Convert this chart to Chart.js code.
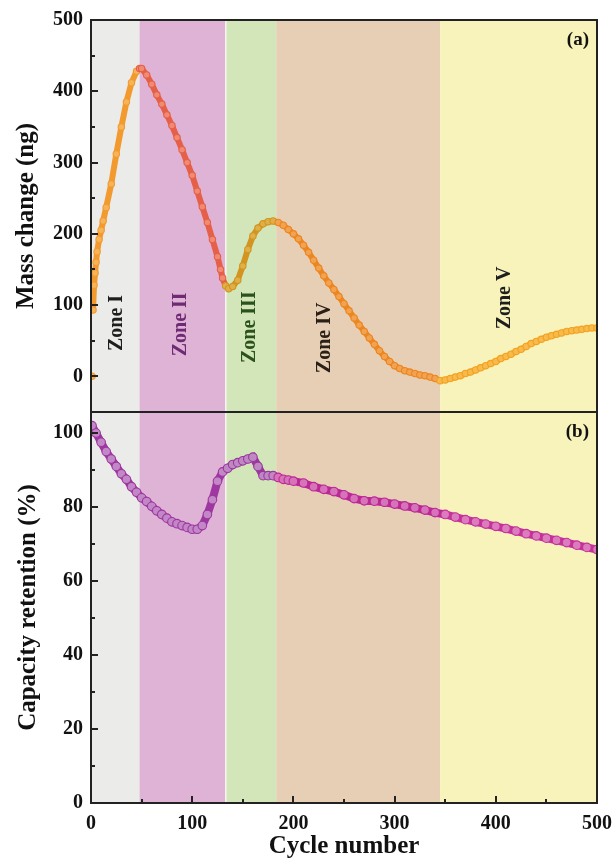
<!DOCTYPE html>
<html>
<head>
<meta charset="utf-8">
<script src="https://cdn.jsdelivr.net/npm/chart.js@4.4.1/dist/chart.umd.min.js"></script>
<style>
  body { margin: 0; background: #fff; }
  #wrap { position: relative; width: 614px; height: 862px; }
  #topBox { position: absolute; left: 0; top: 0; width: 614px; height: 413px; }
  #bottomBox { position: absolute; left: 0; top: 411px; width: 614px; height: 451px; }
</style>
</head>
<body>
<div id="wrap">
  <div id="topBox"><canvas id="massChart"></canvas></div>
  <div id="bottomBox"><canvas id="retentionChart"></canvas></div>
</div>
<script>
// zones (cycle boundaries)
const zoneEdges = [0, 48, 133, 183, 345, 500];
const zoneNames = ["Zone I", "Zone II", "Zone III", "Zone IV", "Zone V"];
const zoneFills = ["#ebebe9", "#dfb3d6", "#d2e6ba", "#e7cfb6", "#f8f3bb"];
const zoneTextColors = ["#1e1e1e", "#6e2a72", "#2c521c", "#2a2016", "#1e1e1e"];
const zoneLabelCycle = [26, 89, 157, 231, 409];
const zoneLabelMass = [75, 73, 69, 54, 110];

// panel (a): mass change
const massCycles = [1, 2, 3, 4, 5, 6, 8, 10, 12, 15, 20, 25, 30, 35, 40, 45, 48,
  50, 55, 60, 65, 70, 75, 80, 85, 90, 95, 100, 105, 110, 115, 120, 125, 128, 130, 133,
  136, 140, 145, 150, 155, 160, 165, 170, 175, 180,
  185, 190, 195, 200, 205, 210, 215, 220, 225, 230, 235, 240, 245, 250, 255, 260, 265,
  270, 275, 280, 285, 290, 295, 300, 305, 310, 315, 320, 325, 330, 335, 340, 345,
  350, 355, 360, 365, 370, 375, 380, 385, 390, 395, 400, 405, 410, 415, 420, 425, 430,
  435, 440, 445, 450, 455, 460, 465, 470, 475, 480, 485, 490, 495, 500];
const massValues = [0, 93, 128, 145, 160, 175, 192, 205, 218, 237, 270, 312, 350, 385, 412, 428, 432,
  432, 423, 410, 395, 382, 367, 352, 335, 318, 300, 282, 260, 238, 216, 192, 168, 150, 138, 127,
  123, 126, 135, 155, 178, 197, 208, 214, 217, 218,
  216, 212, 206, 200, 193, 184, 174, 163, 152, 141, 131, 122, 112, 102, 92, 82, 72,
  63, 54, 45, 36, 28, 21, 15, 11, 8, 6, 4, 2, 1, -1, -3, -6,
  -5, -3, -1, 1, 4, 6, 9, 12, 15, 18, 21, 25, 28, 31, 35, 38, 42,
  46, 49, 52, 55, 57, 59, 61, 63, 64, 65, 66, 67, 68, 68];
const massTicks = [0, 100, 200, 300, 400, 500];
const massColors = ["#f29a2e", "#e65f48", "#d39520", "#ec8620", "#f4a220"];
const massFills = ["#f6b35a", "#ee8b70", "#dfb04a", "#f2a352", "#f7ba4c"];

// panel (b): capacity retention
const retentionCycles = [1, 5, 10, 15, 20, 25, 30, 35, 40, 45, 50, 55, 60, 65, 70, 75, 80, 85, 90,
  95, 100, 105, 110, 115, 120, 125, 130, 135, 140, 145, 150, 155, 160, 165, 170, 175, 180,
  185, 190, 195, 200, 210, 220, 230, 240, 250, 260, 270, 280, 290, 300, 310, 320, 330,
  340, 350, 360, 370, 380, 390, 400, 410, 420, 430, 440, 450, 460, 470, 480, 490, 500];
const retentionValues = [102, 100, 97.5, 95, 93, 91, 89, 87.5, 85.5, 84, 82.5, 81.5, 80.2, 79, 78,
  77, 76, 75.5, 75, 74.5, 74, 74, 75, 78, 82, 87, 89.5, 90.5, 91.5, 92, 92.5, 93, 93.5, 91,
  88.5, 88.5, 88.5, 88, 87.5, 87.3, 87, 86.5, 85.5, 84.8, 84.2, 83.3, 82.3, 81.7, 81.6, 81.3,
  80.8, 80.3, 79.8, 79.2, 78.5, 78, 77.3, 76.6, 76, 75.4, 74.8, 74.2, 73.5, 72.8, 72.2, 71.6,
  71, 70.4, 69.7, 69.1, 68.5];
const retentionTicks = [0, 20, 40, 60, 80, 100];
const retentionColors = ["#9e379f", "#9e379f", "#9a389e", "#bb2894", "#c5329a"];
const retentionFills = ["#c287c6", "#c287c6", "#bf88c3", "#d673ba", "#dc7bbe"];

const cycleTicks = [0, 100, 200, 300, 400, 500];

const serif = "'Liberation Serif', 'Times New Roman', serif";

function zoneOf(c) {
  for (let i = 0; i < zoneNames.length; i++) {
    if (c < zoneEdges[i + 1]) return i;
  }
  return zoneNames.length - 1;
}

const panelPlugin = {
  id: "panel",
  beforeDatasetsDraw(chart, args, opts) {
    const { ctx, chartArea: a, scales: { x, y } } = chart;
    ctx.save();
    for (let i = 0; i < zoneNames.length; i++) {
      const x0 = x.getPixelForValue(zoneEdges[i]);
      const x1 = x.getPixelForValue(zoneEdges[i + 1]);
      ctx.fillStyle = zoneFills[i];
      ctx.fillRect(x0, a.top, x1 - x0, a.bottom - a.top);
    }
    // thin light seam between zone II and III
    const seam = x.getPixelForValue(zoneEdges[2]);
    ctx.fillStyle = "rgba(255,255,255,0.7)";
    ctx.fillRect(seam - 0.5, a.top, 1.5, a.bottom - a.top);

    if (opts.labels) {
      ctx.font = "bold 20px " + serif;
      ctx.textAlign = "center";
      ctx.textBaseline = "middle";
      zoneNames.forEach((name, i) => {
        ctx.save();
        ctx.translate(x.getPixelForValue(zoneLabelCycle[i]), y.getPixelForValue(zoneLabelMass[i]));
        ctx.rotate(-Math.PI / 2);
        ctx.fillStyle = zoneTextColors[i];
        ctx.fillText(name, 0, 0);
        ctx.restore();
      });
    }
    ctx.restore();
  },
  afterDatasetsDraw(chart, args, opts) {
    const { ctx, chartArea: a, scales: { x, y } } = chart;
    ctx.save();
    ctx.strokeStyle = "#222";
    ctx.lineWidth = 2;
    // y ticks, inward
    const yt = opts.yTicks;
    const step = yt[1] - yt[0];
    for (let v = yt[0]; v <= yt[yt.length - 1]; v += step / 2) {
      const major = Math.abs((v - yt[0]) % step) < 1e-6;
      const py = Math.round(y.getPixelForValue(v));
      ctx.beginPath();
      ctx.moveTo(a.left, py);
      ctx.lineTo(a.left + (major ? 7 : 4), py);
      ctx.stroke();
    }
    if (opts.xTicks) {
      for (let c = cycleTicks[0]; c <= cycleTicks[cycleTicks.length - 1]; c += 50) {
        const major = c % 100 === 0;
        const px = Math.round(x.getPixelForValue(c));
        ctx.beginPath();
        ctx.moveTo(px, a.bottom);
        ctx.lineTo(px, a.bottom - (major ? 7 : 4));
        ctx.stroke();
      }
    }
    ctx.strokeRect(a.left, a.top, a.right - a.left, a.bottom - a.top);
    // panel letter
    ctx.fillStyle = "#111";
    ctx.font = "bold 19px " + serif;
    ctx.textAlign = "right";
    ctx.textBaseline = "middle";
    ctx.fillText(opts.letter, a.right - 8, a.top + opts.letterDy);
    ctx.restore();
  }
};

function points(cycles, values) {
  return cycles.map((c, i) => ({ x: c, y: values[i] }));
}

function makeDataset(cycles, values, colors, fills, radius, width, skipFirst) {
  return {
    data: points(cycles, values),
    showLine: true,
    borderWidth: width,
    segment: {
      borderColor: c => (skipFirst && c.p0DataIndex === 0) ? "rgba(0,0,0,0)" : colors[zoneOf(c.p0.parsed.x)]
    },
    borderColor: colors[0],
    pointRadius: radius,
    pointBorderWidth: 1.1,
    pointBorderColor: c => colors[zoneOf(c.raw ? c.raw.x : 0)],
    pointBackgroundColor: c => fills[zoneOf(c.raw ? c.raw.x : 0)]
  };
}

function noEdgePadding(s) {
  s.paddingTop = 0;
  s.paddingBottom = 0;
  s.paddingLeft = 0;
  s.paddingRight = 0;
}

function yScale(min, max, ticks, title, titlePad) {
  return {
    min, max,
    afterBuildTicks: s => { s.ticks = ticks.map(v => ({ value: v })); },
    afterFit: s => { s.width = 91; noEdgePadding(s); },
    grid: { display: false, drawTicks: false },
    border: { display: false },
    ticks: { color: "#111", padding: 8, font: { family: serif, size: 20, weight: "bold" } },
    title: {
      display: true, text: title, color: "#111",
      padding: { top: titlePad, bottom: 0 },
      font: { family: serif, size: 25, weight: "bold" }
    }
  };
}

Chart.defaults.animation = false;

new Chart(document.getElementById("massChart"), {
  type: "scatter",
  data: { datasets: [makeDataset(massCycles, massValues, massColors, massFills, 3.2, 6, true)] },
  options: {
    responsive: true,
    maintainAspectRatio: false,
    layout: { autoPadding: false, padding: { top: 20, right: 17, bottom: 1, left: 0 } },
    plugins: {
      legend: { display: false },
      tooltip: { enabled: false },
      panel: { labels: true, yTicks: massTicks, xTicks: false, letter: "(a)", letterDy: 20 }
    },
    scales: {
      x: { type: "linear", min: 0, max: 500, display: false },
      y: yScale(-50, 500, massTicks, "Mass change (ng)", 12)
    }
  },
  plugins: [panelPlugin]
});

new Chart(document.getElementById("retentionChart"), {
  type: "scatter",
  data: { datasets: [makeDataset(retentionCycles, retentionValues, retentionColors, retentionFills, 4.3, 8, false)] },
  options: {
    responsive: true,
    maintainAspectRatio: false,
    layout: { autoPadding: false, padding: { top: 1, right: 17, bottom: 0, left: 0 } },
    plugins: {
      legend: { display: false },
      tooltip: { enabled: false },
      panel: { labels: false, yTicks: retentionTicks, xTicks: true, letter: "(b)", letterDy: 20 }
    },
    scales: {
      x: {
        type: "linear", min: 0, max: 500,
        afterBuildTicks: s => { s.ticks = cycleTicks.map(v => ({ value: v })); },
        afterFit: s => { s.height = 59; noEdgePadding(s); },
        grid: { display: false, drawTicks: false },
        border: { display: false },
        ticks: { color: "#111", padding: 9, maxRotation: 0, font: { family: serif, size: 20, weight: "bold" } },
        title: {
          display: true, text: "Cycle number", color: "#111",
          padding: { top: 0, bottom: 0 },
          font: { family: serif, size: 25, weight: "bold" }
        }
      },
      y: yScale(0, 105.7, retentionTicks, "Capacity retention (%)", 14)
    }
  },
  plugins: [panelPlugin]
});
</script>
</body>
</html>
